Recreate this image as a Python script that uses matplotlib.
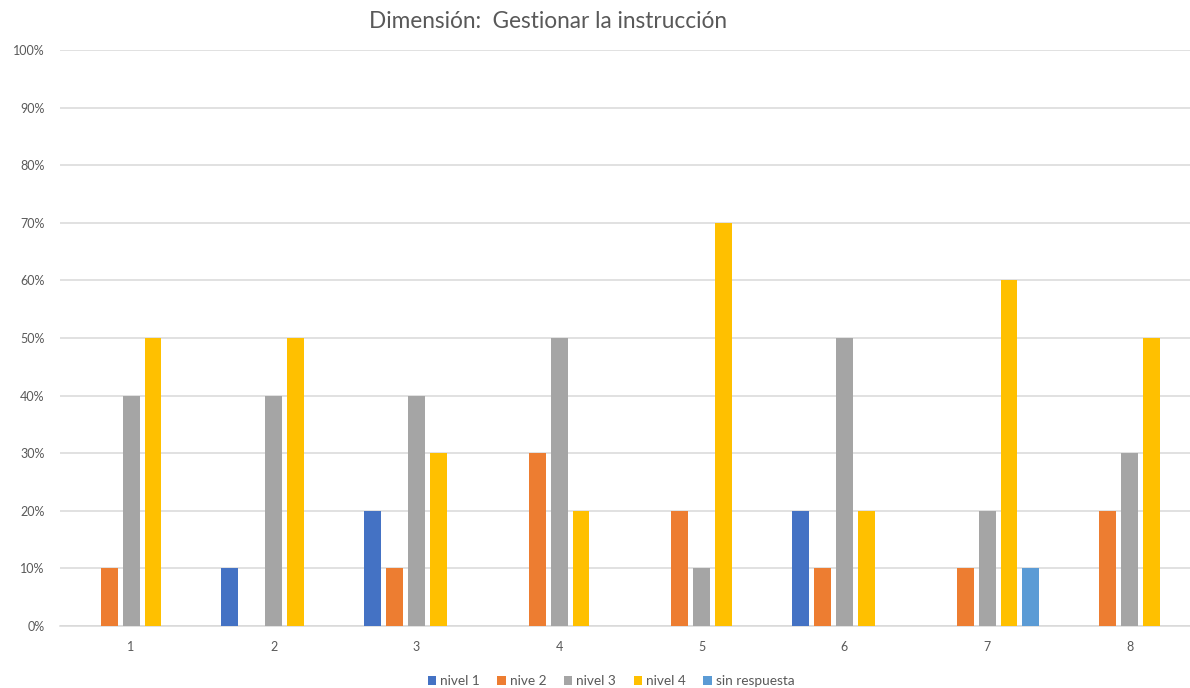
import matplotlib

matplotlib.use("Agg")
import matplotlib.pyplot as plt
import numpy as np
from matplotlib.ticker import PercentFormatter

plt.rcParams["font.family"] = ["Lato", "DejaVu Sans"]

categories = ["1", "2", "3", "4", "5", "6", "7", "8"]
series_names = ["nivel 1", "nive 2", "nivel 3", "nivel 4", "sin respuesta"]
nivel_1 = [0, 10, 20, 0, 0, 20, 0, 0]
nivel_2 = [10, 0, 10, 30, 20, 10, 10, 20]
nivel_3 = [40, 40, 40, 50, 10, 50, 20, 30]
nivel_4 = [50, 50, 30, 20, 70, 20, 60, 50]
sin_respuesta = [0, 0, 0, 0, 0, 0, 10, 0]
series_values = [nivel_1, nivel_2, nivel_3, nivel_4, sin_respuesta]
colors = ["#4472C4", "#ED7D31", "#A5A5A5", "#FFC000", "#5B9BD5"]

W, H = 1190, 688
fig = plt.figure(figsize=(W / 100, H / 100), dpi=100)
ax = fig.add_axes([59.7 / W, (H - 626) / H, (W - 59.7) / W, 576 / H])

x = np.arange(len(categories))
step = 0.154
width = 0.119
for i, (name, vals, col) in enumerate(zip(series_names, series_values, colors)):
    ax.bar(x + (i - 2) * step, vals, width=width, color=col, label=name, zorder=3)

ax.set_xlim(-0.5, (W - 131) / 142.67)
ax.set_ylim(0, 100)
ax.set_yticks(np.arange(0, 101, 10))
ax.yaxis.set_major_formatter(PercentFormatter(decimals=0))
ax.set_xticks(x)
ax.set_xticklabels(categories)
ax.grid(axis="y", color="#d9d9d9", linewidth=1.1, zorder=0)
for side in ("top", "right", "left"):
    ax.spines[side].set_visible(False)
ax.spines["bottom"].set_color("#d9d9d9")
ax.spines["bottom"].set_linewidth(1.1)
ax.tick_params(axis="both", length=0, labelsize=9, labelcolor="#595959")
ax.tick_params(axis="y", pad=11)
ax.tick_params(axis="x", pad=11)

fig.text(548 / W, 1 - 22 / H, "Dimensión:  Gestionar la instrucción",
         ha="center", va="center", fontsize=16.3, color="#595959")

fig.legend(loc="center", bbox_to_anchor=(611 / W, 1 - 681 / H), ncol=5,
           frameon=False, fontsize=9.8, labelcolor="#595959",
           handlelength=0.6, handleheight=0.6, handletextpad=0.3,
           columnspacing=1.3)

fig.savefig("out.png", dpi=100)
